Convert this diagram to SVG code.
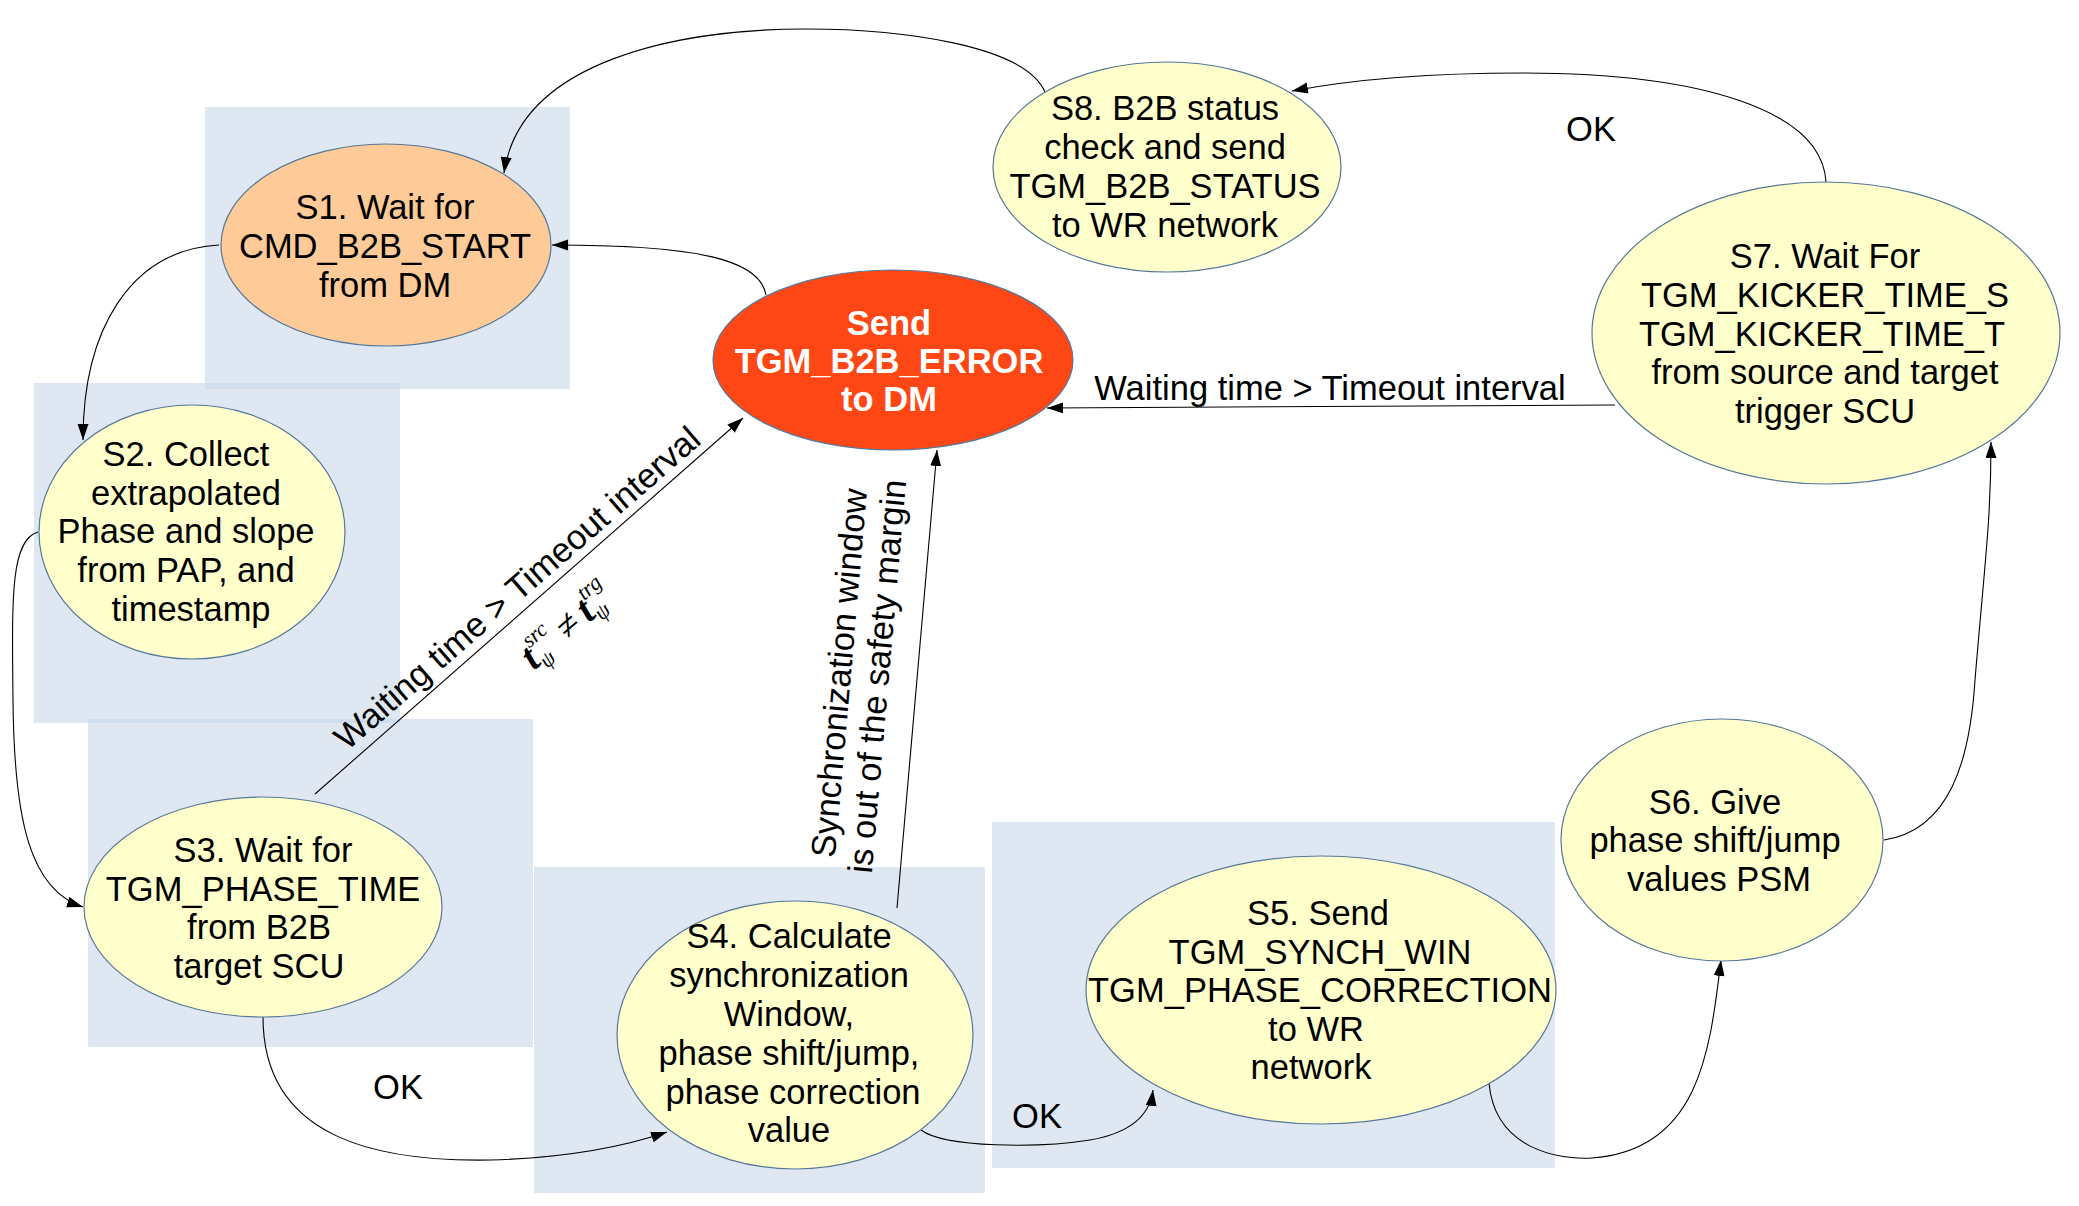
<svg xmlns="http://www.w3.org/2000/svg" width="2079" height="1206" viewBox="0 0 2079 1206">
<style>
.bg{fill:#bfd1e6;fill-opacity:0.5;stroke:none}
.node{fill:#ffffcc;stroke:#56789a;stroke-width:1.2}
.t{font-family:"Liberation Sans",Arial,sans-serif;font-size:34.5px;fill:#000;text-anchor:middle}
.edge{fill:none;stroke:#000;stroke-width:1.1;marker-end:url(#arr)}
.lbl{font-family:"Liberation Sans",Arial,sans-serif;font-size:34.5px;fill:#000}
.math{font-family:"Liberation Serif","Times New Roman",serif;font-style:italic;fill:#000}
.mt{font-size:40px;font-weight:bold}
</style>
<defs>
<marker id="arr" markerUnits="userSpaceOnUse" markerWidth="17" markerHeight="12" refX="16" refY="5.5" orient="auto" viewBox="0 0 17 12">
<path d="M0,0 L16,5.5 L0,11 z" fill="#000"/>
</marker>
</defs>
<rect width="2079" height="1206" fill="#fff"/>
<g id="backgrounds">
<rect class="bg" x="205" y="107" width="365" height="282"/>
<rect class="bg" x="34" y="383" width="366" height="340"/>
<rect class="bg" x="88" y="719" width="445" height="328"/>
<rect class="bg" x="534" y="867" width="451" height="326"/>
<rect class="bg" x="992" y="822" width="563" height="346"/>
</g>
<g id="connectors">
<path class="edge" d="M1045,92 C1025,45 900,29 806,29 C680,29 520,60 504,173"/>
<path class="edge" d="M1826,182 C1822,110 1700,73 1523,73 C1430,73 1350,80 1292,91"/>
<path class="edge" d="M1615,405 L1047,408"/>
<path class="edge" d="M766,295 C760,260 700,245 552,245"/>
<path class="edge" d="M219,245 C130,250 83,330 83,440"/>
<path class="edge" d="M38,532 C10,540 12,600 13,700 C14,820 30,890 83,907"/>
<path class="edge" d="M315,794 L743,418"/>
<path class="edge" d="M263,1017 C263,1140 380,1162 491,1160 C560,1158 620,1148 667,1132"/>
<path class="edge" d="M897,908 L937,450"/>
<path class="edge" d="M921,1130 C945,1148 1040,1148 1090,1140 C1130,1133 1150,1115 1153,1090"/>
<path class="edge" d="M1489,1083 C1495,1150 1560,1160 1592,1158 C1700,1150 1710,1050 1721,960"/>
<path class="edge" d="M1884,840 C1950,830 1970,760 1975,680 C1985,560 1991,520 1991,442"/>
<text class="lbl" x="1591" y="141" text-anchor="middle">OK</text>
<text class="lbl" x="1330" y="400" text-anchor="middle">Waiting time &gt; Timeout interval</text>
<text class="lbl" x="398" y="1099" text-anchor="middle">OK</text>
<text class="lbl" x="1037" y="1128" text-anchor="middle">OK</text>
<text class="lbl" text-anchor="middle" transform="translate(525,597) rotate(-41)">Waiting time &gt; Timeout interval</text>
<text class="math" transform="translate(534,671) rotate(-41)"><tspan class="mt">t</tspan><tspan font-size="22" dy="-20">src</tspan><tspan font-size="22" dx="-26" dy="27">ψ</tspan><tspan font-size="38" dx="20" dy="-7">≠</tspan><tspan class="mt" dx="7">t</tspan><tspan font-size="22" dy="-20">trg</tspan><tspan font-size="22" dx="-25" dy="27">ψ</tspan></text>
<text class="lbl" text-anchor="middle" transform="translate(851,674) rotate(-85)"><tspan x="0" y="0">Synchronization window</tspan><tspan x="0" y="38">is out of the safety margin</tspan></text>
</g>
<g id="S1">
<ellipse cx="386" cy="245" rx="165" ry="101" fill="#fdca98" stroke="#56789a" stroke-width="1.2"/>
<text class="t"><tspan x="385" y="219">S1. Wait for</tspan><tspan x="385" y="258">CMD_B2B_START</tspan><tspan x="385" y="297">from DM</tspan></text>
</g>
<g id="SendError">
<ellipse cx="893" cy="360" rx="180" ry="90" fill="#ff4615" stroke="#56789a" stroke-width="1.2"/>
<text class="t" style="fill:#fff;font-weight:bold"><tspan x="889" y="335">Send</tspan><tspan x="889" y="373">TGM_B2B_ERROR</tspan><tspan x="889" y="411">to DM</tspan></text>
</g>
<g id="S8">
<ellipse class="node" cx="1167" cy="167" rx="174" ry="105"/>
<text class="t"><tspan x="1165" y="120">S8. B2B status</tspan><tspan x="1165" y="159">check and send</tspan><tspan x="1165" y="198">TGM_B2B_STATUS</tspan><tspan x="1165" y="237">to WR network</tspan></text>
</g>
<g id="S7">
<ellipse class="node" cx="1826" cy="333" rx="234" ry="151"/>
<text class="t"><tspan x="1825" y="268">S7. Wait For</tspan><tspan x="1825" y="307">TGM_KICKER_TIME_S</tspan><tspan x="1822" y="346">TGM_KICKER_TIME_T</tspan><tspan x="1825" y="384">from source and target</tspan><tspan x="1825" y="423">trigger SCU</tspan></text>
</g>
<g id="S2">
<ellipse class="node" cx="192" cy="532" rx="153" ry="127"/>
<text class="t"><tspan x="186" y="466">S2. Collect</tspan><tspan x="186" y="505">extrapolated</tspan><tspan x="186" y="543">Phase and slope</tspan><tspan x="186" y="582">from PAP, and</tspan><tspan x="191" y="621">timestamp</tspan></text>
</g>
<g id="S3">
<ellipse class="node" cx="263" cy="907" rx="179" ry="110"/>
<text class="t"><tspan x="263" y="862">S3. Wait for</tspan><tspan x="263" y="901">TGM_PHASE_TIME</tspan><tspan x="259" y="939">from B2B</tspan><tspan x="259" y="978">target SCU</tspan></text>
</g>
<g id="S4">
<ellipse class="node" cx="795" cy="1035" rx="178" ry="134"/>
<text class="t"><tspan x="789" y="948">S4. Calculate</tspan><tspan x="789" y="987">synchronization</tspan><tspan x="789" y="1026">Window,</tspan><tspan x="789" y="1065">phase shift/jump,</tspan><tspan x="793" y="1104">phase correction</tspan><tspan x="789" y="1142">value</tspan></text>
</g>
<g id="S5">
<ellipse class="node" cx="1321" cy="990" rx="235" ry="134"/>
<text class="t"><tspan x="1318" y="925">S5. Send</tspan><tspan x="1320" y="964">TGM_SYNCH_WIN</tspan><tspan x="1320" y="1002">TGM_PHASE_CORRECTION</tspan><tspan x="1316" y="1041">to WR</tspan><tspan x="1311" y="1079">network</tspan></text>
</g>
<g id="S6">
<ellipse class="node" cx="1722" cy="840" rx="161" ry="121"/>
<text class="t"><tspan x="1715" y="814">S6. Give</tspan><tspan x="1715" y="852">phase shift/jump</tspan><tspan x="1719" y="891">values PSM</tspan></text>
</g>
</svg>
